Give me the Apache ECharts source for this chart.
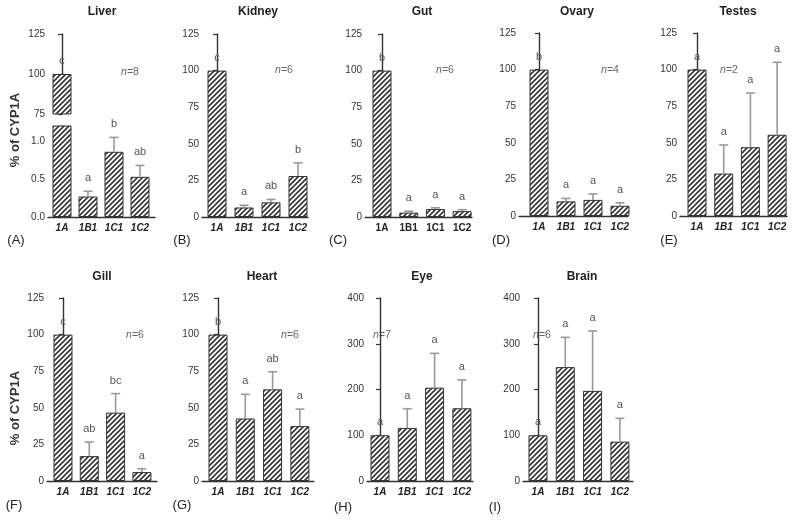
<!DOCTYPE html>
<html><head><meta charset="utf-8">
<script src="https://cdn.jsdelivr.net/npm/echarts@6/dist/echarts.min.js"></script>
<style>html,body{margin:0;padding:0;background:#fff}#c{width:800px;height:521px}</style>
</head><body><div id="c"></div>
<script>
// ---------- DATA ----------
const categories = ['1A', '1B1', '1C1', '1C2'];
const liverMean  = [100, 0.27, 0.86, 0.53];
const liverSem   = [0, 0.07, 0.19, 0.15];
const liverSig   = ['c', 'a', 'b', 'ab'];
const kidneyMean = [100, 6.5, 10, 28];
const kidneySem  = [0, 1.5, 2, 9];
const kidneySig  = ['c', 'a', 'ab', 'b'];
const gutMean    = [100, 3, 5.5, 4];
const gutSem     = [0, 1, 0.8, 1];
const gutSig     = ['b', 'a', 'a', 'a'];
const ovaryMean  = [100, 10, 11, 7];
const ovarySem   = [0, 2, 4, 2];
const ovarySig   = ['b', 'a', 'a', 'a'];
const testesMean = [100, 29, 47, 55.5];
const testesSem  = [0, 19.5, 37, 49.5];
const testesSig  = ['a', 'a', 'a', 'a'];
const gillMean   = [100, 17, 46.7, 6.1];
const gillSem    = [0, 9.6, 13, 2.3];
const gillSig    = ['c', 'ab', 'bc', 'a'];
const heartMean  = [100, 42.7, 62.6, 37.5];
const heartSem   = [0, 16.5, 12, 11.6];
const heartSig   = ['b', 'a', 'ab', 'a'];
const eyeMean    = [100, 116, 204, 159];
const eyeSem     = [0, 42, 75, 62];
const eyeSig     = ['a', 'a', 'a', 'a'];
const brainMean  = [100, 249, 197, 86];
const brainSem   = [0, 65, 131, 51];
const brainSig   = ['a', 'a', 'a', 'a'];
const panelTitles = ['Liver', 'Kidney', 'Gut', 'Ovary', 'Testes', 'Gill', 'Heart', 'Eye', 'Brain'];
const panelLetters = ['(A)', '(B)', '(C)', '(D)', '(E)', '(F)', '(G)', '(H)', '(I)'];
const nValues = [8, 6, 6, 4, 2, 6, 6, 7, 6];
const yTicks125 = [0, 25, 50, 75, 100, 125];
const yTicks400 = [0, 100, 200, 300, 400];
const liverLowTicks = [0, 0.5, 1.0];
const liverHighTicks = [75, 100, 125];

// ---------- LAYOUT (positions / styles) ----------
const FONT = "'Liberation Sans', Arial, sans-serif";
const panels = [
  {mean: liverMean,  sem: liverSem,  sig: liverSig,  left: 48,  top: 126, width: 107, height: 91, xmin: -0.538, xmax: 3.577, ymax: 1.2, ticks: liverLowTicks, italic: true, title: [102, 12], tag: [16, 240], n: [130, 72], liver: true},
  {mean: kidneyMean, sem: kidneySem, sig: kidneySig, left: 202, top: 34, width: 106, height: 183, xmin: -0.556, xmax: 3.37, ymax: 125, ticks: yTicks125, italic: true, title: [258, 12], tag: [182, 240], n: [284, 70]},
  {mean: gutMean,    sem: gutSem,    sig: gutSig,    left: 365, top: 34, width: 107, height: 183, xmin: -0.637, xmax: 3.37, ymax: 125, ticks: yTicks125, italic: false, title: [422, 12], tag: [338, 240], n: [445, 70]},
  {mean: ovaryMean,  sem: ovarySem,  sig: ovarySig,  left: 519, top: 33, width: 109, height: 183, xmin: -0.741, xmax: 3.296, ymax: 125, ticks: yTicks125, italic: true, title: [577, 12], tag: [501, 240], n: [610, 70]},
  {mean: testesMean, sem: testesSem, sig: testesSig, left: 680, top: 33, width: 107, height: 183, xmin: -0.637, xmax: 3.37, ymax: 125, ticks: yTicks125, italic: true, title: [738, 12], tag: [669, 240], n: [729, 70]},
  {mean: gillMean,   sem: gillSem,   sig: gillSig,   left: 47,  top: 298, width: 110, height: 183, xmin: -0.608, xmax: 3.574, ymax: 125, ticks: yTicks125, italic: true, title: [102, 277], tag: [14, 505], n: [135, 335]},
  {mean: heartMean,  sem: heartSem,  sig: heartSig,  left: 202, top: 298, width: 112, height: 183, xmin: -0.586, xmax: 3.517, ymax: 125, ticks: yTicks125, italic: true, title: [262, 277], tag: [182, 505], n: [290, 335]},
  {mean: eyeMean,    sem: eyeSem,    sig: eyeSig,    left: 367, top: 298, width: 106, height: 183, xmin: -0.476, xmax: 3.407, ymax: 400, ticks: yTicks400, italic: true, title: [422, 277], tag: [343, 507], n: [382, 335]},
  {mean: brainMean,  sem: brainSem,  sig: brainSig,  left: 523, top: 298, width: 110, height: 183, xmin: -0.549, xmax: 3.48, ymax: 400, ticks: yTicks400, italic: true, title: [582, 277], tag: [495, 507], n: [542, 335]}
];

// hatch pattern
function makeHatch() {
  const s = 5;
  const c = document.createElement('canvas');
  c.width = s; c.height = s;
  const ctx = c.getContext('2d');
  ctx.fillStyle = '#fff'; ctx.fillRect(0, 0, s, s);
  ctx.strokeStyle = '#383838'; ctx.lineWidth = 1.7;
  ctx.beginPath();
  ctx.moveTo(-1, s + 1); ctx.lineTo(s + 1, -1);
  ctx.moveTo(-2, 2); ctx.lineTo(2, -2);
  ctx.moveTo(s - 2, s + 2); ctx.lineTo(s + 2, s - 2);
  ctx.stroke();
  return c;
}
const hatch = {image: makeHatch(), repeat: 'repeat'};

function errRender(lo, hi, letters) {
  return function (params, api) {
    const i = api.value(0), m = api.value(1), e = api.value(2);
    if (m < lo || m > hi) return null;
    const base = api.coord([i, m]);
    const top = api.coord([i, m + e]);
    const ch = [];
    if (e > 0) {
      ch.push({type: 'line', shape: {x1: base[0], y1: base[1], x2: top[0], y2: top[1]}, style: {stroke: '#999', lineWidth: 1.6}});
      ch.push({type: 'line', shape: {x1: top[0] - 4.5, y1: top[1], x2: top[0] + 4.5, y2: top[1]}, style: {stroke: '#999', lineWidth: 1.6}});
    }
    ch.push({type: 'text', x: top[0], y: top[1] - 13, style: {text: letters[params.dataIndex], align: 'center', verticalAlign: 'middle', fill: '#555', font: '11px ' + FONT}});
    return {type: 'group', children: ch};
  };
}

const grid = [], xAxis = [], yAxis = [], series = [], graphic = [];
const axisLineStyle = {color: '#333', width: 1.4};

function addPanel(p, gi, opts) {
  grid.push({left: opts.left, top: opts.top, width: opts.width, height: opts.height});
  xAxis.push({
    type: 'value', gridIndex: gi, min: p.xmin, max: p.xmax,
    axisLine: {show: opts.showX, onZero: false, lineStyle: axisLineStyle},
    axisTick: {show: false}, splitLine: {show: false},
    axisLabel: {show: opts.showX, customValues: [0, 1, 2, 3], formatter: v => categories[Math.round(v)] || '',
      fontFamily: FONT, fontSize: 10, fontWeight: 'bold', fontStyle: p.italic ? 'italic' : 'normal', color: '#222', margin: 6}
  });
  yAxis.push({
    type: 'value', gridIndex: gi, min: opts.ymin, max: opts.ymax,
    axisLine: {show: true, lineStyle: axisLineStyle},
    axisTick: {show: true, length: 4, customValues: opts.tickVals, lineStyle: {color: '#333', width: 1.2}},
    splitLine: {show: false},
    axisLabel: {customValues: opts.labelVals, formatter: opts.fmt, fontFamily: FONT, fontSize: 10, color: '#333', margin: 3}
  });
  series.push({
    type: 'bar', xAxisIndex: gi, yAxisIndex: gi, barWidth: 19, clip: true,
    data: p.mean.map((v, i) => [i, v]),
    itemStyle: {color: hatch, borderColor: '#333', borderWidth: 1},
    silent: true, animation: false
  });
  series.push({
    type: 'custom', xAxisIndex: gi, yAxisIndex: gi, z: 5, animation: false, silent: true,
    data: p.mean.map((v, i) => [i, v, p.sem[i]]),
    renderItem: errRender(opts.lo, opts.hi, p.sig)
  });
}

let gi = 0;
panels.forEach((p, k) => {
  if (p.liver) {
    addPanel(p, gi++, {left: p.left, top: 34, width: p.width, height: 80, ymin: 75, ymax: 125,
      tickVals: liverHighTicks, labelVals: liverHighTicks, fmt: v => String(v), showX: false, lo: 75, hi: 1e9});
    addPanel(p, gi++, {left: p.left, top: p.top, width: p.width, height: p.height, ymin: 0, ymax: p.ymax,
      tickVals: liverLowTicks.concat([p.ymax]), labelVals: liverLowTicks, fmt: v => v.toFixed(1), showX: true, lo: -1, hi: p.ymax});
  } else {
    addPanel(p, gi++, {left: p.left, top: p.top, width: p.width, height: p.height, ymin: 0, ymax: p.ymax,
      tickVals: p.ticks, labelVals: p.ticks, fmt: v => String(v), showX: true, lo: -1, hi: 1e9});
  }
  graphic.push({type: 'text', x: p.title[0], y: p.title[1], style: {text: panelTitles[k], align: 'center', verticalAlign: 'middle', font: 'bold 12px ' + FONT, fill: '#222'}});
  graphic.push({type: 'text', x: p.tag[0], y: p.tag[1], style: {text: panelLetters[k], align: 'center', verticalAlign: 'middle', font: '13px ' + FONT, fill: '#222'}});
  graphic.push({type: 'text', x: p.n[0], y: p.n[1], style: {text: '{i|n}=' + nValues[k], align: 'center', verticalAlign: 'middle', font: '10.5px ' + FONT, fill: '#666',
    rich: {i: {fontStyle: 'italic', fontFamily: FONT, fontSize: 10.5, fill: '#666'}}}});
});
graphic.push({type: 'text', x: 15, y: 130, rotation: Math.PI / 2, style: {text: '% of CYP1A', align: 'center', verticalAlign: 'middle', font: 'bold 13px ' + FONT, fill: '#333'}});
graphic.push({type: 'text', x: 15, y: 408, rotation: Math.PI / 2, style: {text: '% of CYP1A', align: 'center', verticalAlign: 'middle', font: 'bold 13px ' + FONT, fill: '#333'}});

const chart = echarts.init(document.getElementById('c'), null, {renderer: 'canvas'});
chart.setOption({animation: false, backgroundColor: '#fff', grid, xAxis, yAxis, series, graphic});
</script>
</body></html>
